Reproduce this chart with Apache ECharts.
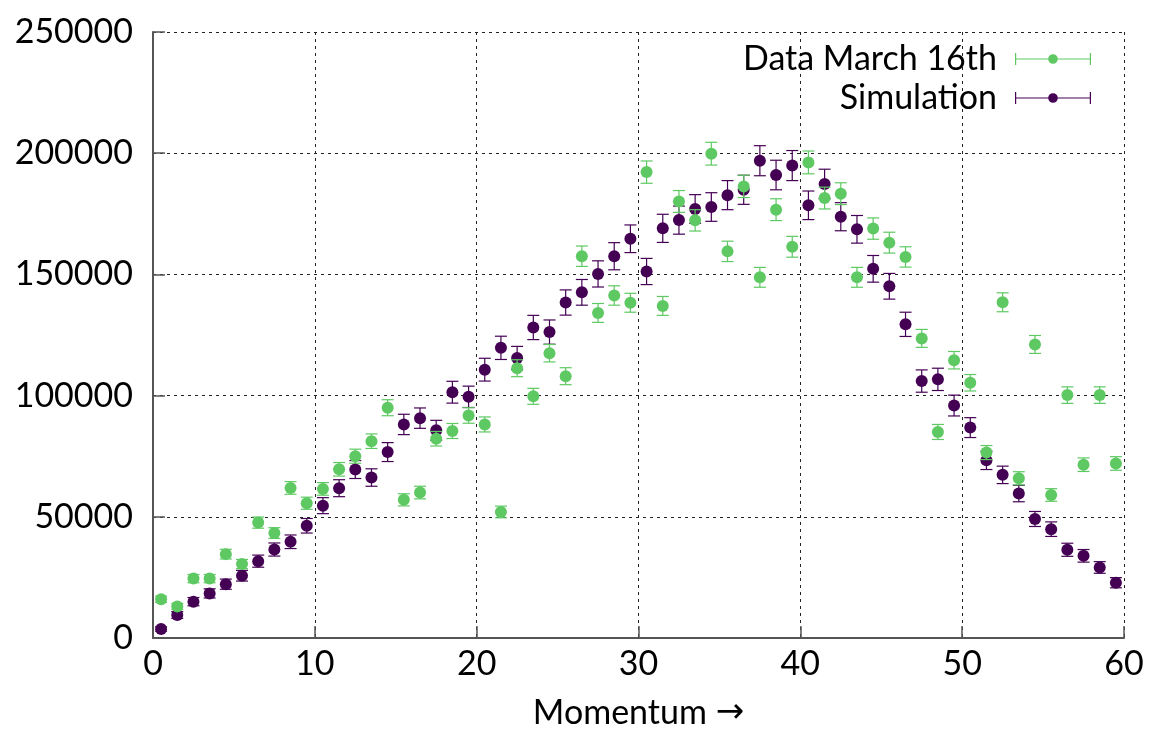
<!DOCTYPE html>
<html>
<head>
<meta charset="utf-8">
<script src="https://cdn.jsdelivr.net/npm/echarts@6/dist/echarts.min.js"></script>
<style>
html,body{margin:0;padding:0;background:#fff;}
#chart{width:1153px;height:735px;}
</style>
</head>
<body>
<div id="chart"></div>
<script>
var momentum = [0.5,1.5,2.5,3.5,4.5,5.5,6.5,7.5,8.5,9.5,10.5,11.5,12.5,13.5,14.5,15.5,16.5,17.5,18.5,19.5,
  20.5,21.5,22.5,23.5,24.5,25.5,26.5,27.5,28.5,29.5,30.5,31.5,32.5,33.5,34.5,35.5,36.5,37.5,38.5,39.5,
  40.5,41.5,42.5,43.5,44.5,45.5,46.5,47.5,48.5,49.5,50.5,51.5,52.5,53.5,54.5,55.5,56.5,57.5,58.5,59.5];

var dataValues = [16000,13000,24500,24500,34600,30500,47600,43300,61900,55600,
  61500,69600,75000,81200,95000,57000,60000,82200,85400,91800,
  88100,52000,111300,99700,117500,108000,157500,134100,141300,138300,
  192200,137000,180100,172300,199800,159500,186300,148800,176700,161400,
  196200,181500,183300,148800,168900,163100,157200,123600,85000,114600,
  105300,76500,138500,65900,121100,59000,100200,71500,100200,72000];
var dataErrors = [1300,1200,1700,1700,2000,1900,2300,2200,2600,2500,
  2600,2800,2900,3000,3300,2500,2600,3000,3100,3200,
  3100,2400,3500,3300,3600,3500,4200,3900,4000,3900,
  4600,3900,4500,4400,4700,4200,4600,4100,4500,4300,
  4700,4500,4500,4100,4400,4300,4200,3700,3100,3600,
  3400,2900,3900,2700,3700,2600,3400,2800,3400,2800];

var simValues = [3700,9500,15000,18400,22200,25700,31700,36500,39700,46300,
  54600,61800,69500,66200,76700,88100,90700,85700,101400,99500,
  110700,119700,115500,128100,126200,138400,142600,150200,157500,164700,
  151200,169000,172400,177000,177800,182700,184900,196900,191000,194900,
  178500,187300,173800,168600,152300,145100,129400,106000,106700,95900,
  86800,73300,67300,59600,49100,44900,36400,33900,29100,22800];
var simErrors = [900,1400,1700,1900,2100,2200,2500,2700,2800,3000,
  3300,3500,3700,3600,3900,4200,4200,4100,4500,4400,
  4700,4800,4800,5000,5000,5200,5300,5400,5600,5700,
  5400,5800,5800,5900,5900,6000,6000,6200,6100,6200,
  5900,6100,5800,5700,5500,5300,5000,4600,4600,4300,
  4100,3800,3600,3400,3100,3000,2700,2600,2400,2100];

var yTicks = [0,50000,100000,150000,200000,250000];
var xTicks = [0,10,20,30,40,50,60];

var GREEN = '#5ec962', PURPLE = '#440154';
var FONT = 'Lato';

function pts(vals){ return momentum.map(function(x,i){ return [x, vals[i]]; }); }
function errs(vals, e){ return momentum.map(function(x,i){ return [x, vals[i], e[i]]; }); }

function errRender(color){
  return function(params, api){
    var x = api.value(0), y = api.value(1), e = api.value(2);
    var lo = api.coord([x, y - e]), hi = api.coord([x, y + e]);
    var hw = 6;
    var st = {stroke: color, lineWidth: 1.2};
    return {type:'group', children:[
      {type:'line', shape:{x1:lo[0], y1:lo[1], x2:hi[0], y2:hi[1]}, style:st},
      {type:'line', shape:{x1:lo[0]-hw, y1:lo[1], x2:lo[0]+hw, y2:lo[1]}, style:st},
      {type:'line', shape:{x1:hi[0]-hw, y1:hi[1], x2:hi[0]+hw, y2:hi[1]}, style:st}
    ]};
  };
}

var legendIcon = 'path://M0,5.5h76v1h-76z M0,0h1.2v12h-1.2z M74.8,0h1.2v12h-1.2z M38,1.2a4.8,4.8 0 1,1 0,9.6a4.8,4.8 0 1,1 0,-9.6z';

var chart = echarts.init(document.getElementById('chart'), null, {renderer:'canvas'});
var option = {
  animation: false,
  backgroundColor: '#fff',
  textStyle: {fontFamily: FONT},
  grid: {left:153, right:29, top:32, bottom:96, containLabel:false},
  legend: {
    orient: 'vertical', right: 57, top: 37, align: 'right',
    itemWidth: 76, itemHeight: 12, itemGap: 5,
    textStyle: {fontFamily: FONT, fontSize: 34, color: '#000', padding:[0,13,0,0]},
    data: [
      {name:'Data March 16th', icon: legendIcon},
      {name:'Simulation', icon: legendIcon}
    ]
  },
  xAxis: {
    type: 'value', min: xTicks[0], max: xTicks[xTicks.length-1], interval: 10,
    name: 'Momentum {a|\u2192}', nameLocation: 'middle', nameGap: 58,
    nameTextStyle: {fontFamily: FONT, fontSize: 34, color:'#000',
      rich: {a: {fontFamily: 'DejaVu Sans', fontSize: 34, color:'#000'}}},
    axisLine: {show:true, onZero:false, lineStyle:{color:'#555', width:2}},
    axisTick: {show:true, inside:true, length:12, lineStyle:{color:'#555', width:1.5}},
    axisLabel: {fontFamily: FONT, fontSize: 34, color:'#000', margin: 9},
    splitLine: {show:true, lineStyle:{color:'#222', width:1, type:[3,4]}}
  },
  yAxis: {
    type: 'value', min: yTicks[0], max: yTicks[yTicks.length-1], interval: 50000,
    axisLine: {show:true, onZero:false, lineStyle:{color:'#555', width:2}},
    axisTick: {show:true, inside:true, length:12, lineStyle:{color:'#555', width:1.5}},
    axisLabel: {fontFamily: FONT, fontSize: 34, color:'#000', margin: 20,
      formatter: function(v){ return String(v); }},
    splitLine: {show:true, lineStyle:{color:'#222', width:1, type:[3,4]}}
  },
  series: [
    {name:'Simulation', type:'scatter', data: pts(simValues), symbol:'circle', symbolSize:12,
     itemStyle:{color:PURPLE, opacity:1}, z:3},
    {name:'Simulation', type:'custom', data: errs(simValues, simErrors), renderItem: errRender(PURPLE),
     itemStyle:{color:PURPLE}, z:2},
    {name:'Data March 16th', type:'scatter', data: pts(dataValues), symbol:'circle', symbolSize:12,
     itemStyle:{color:GREEN, opacity:1}, z:5},
    {name:'Data March 16th', type:'custom', data: errs(dataValues, dataErrors), renderItem: errRender(GREEN),
     itemStyle:{color:GREEN}, z:4}
  ]
};
chart.setOption(option);
</script>
</body>
</html>
